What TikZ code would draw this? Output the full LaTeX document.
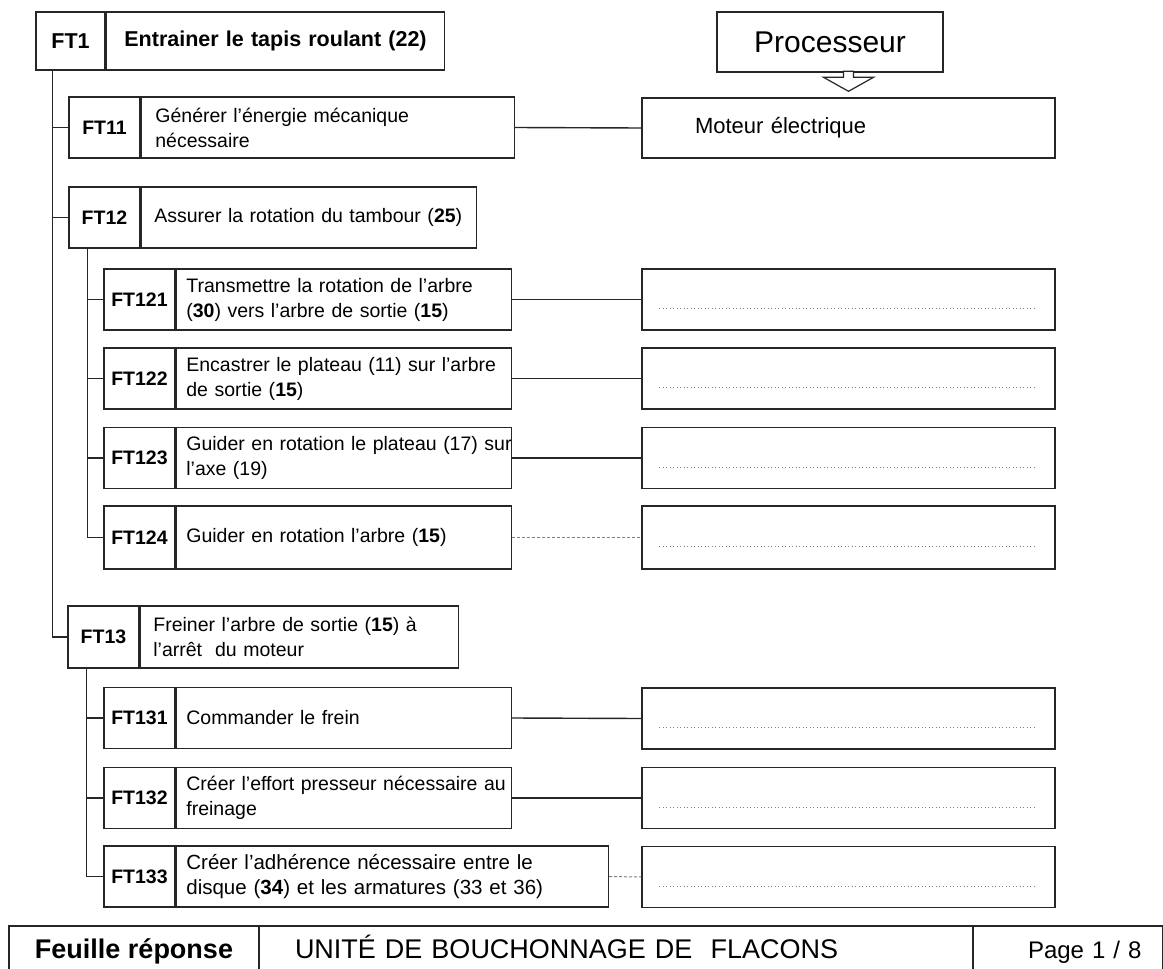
\documentclass[tikz,border=0pt]{standalone}
\usepackage{fontspec}
\setmainfont{Liberation Sans}
\usetikzlibrary{positioning}
\newcommand{\fs}[2]{\fontsize{#1}{#2}\selectfont}

\begin{document}
\begin{tikzpicture}
    [
    x=1pt, y=-1pt,
    lab/.style={draw=black!85, line width=1.4pt, minimum width=71pt, minimum height=61pt, inner sep=0pt, font=\fs{19.5}{24}\bfseries},
    txt/.style={draw=black!85, line width=1.4pt, minimum height=61pt, text width=#1, align=left, inner xsep=10pt, inner ysep=0pt, font=\fs{19.5}{25}},
    ans/.style={draw=black!85, line width=1.4pt, minimum width=413pt, minimum height=61pt, inner sep=0pt},
    foot/.style={draw=black!85, line width=1.4pt, minimum height=59pt, inner sep=0pt, text height=16pt, text depth=11pt, font=\fs{27}{30}},
    link/.style={black!85, line width=1.4pt},
    faint/.style={gray, line width=1pt, densely dashed},
    dots/.style={gray, line width=1pt, dash pattern=on 1pt off 2.5pt}
    ]
    \useasboundingbox (0,0) rectangle (1163,969);
    \fill[white] (0,0) rectangle (1163,969);
    \clip (0,0) rectangle (1163,969);

    % top level
    \node (ft1lab) at (70.5,41) [lab, minimum width=69pt, minimum height=58pt, font=\fs{21.5}{26}\bfseries] {FT1};
    \node (ft1txt) [txt=302pt, right=0pt of ft1lab, inner xsep=18pt, minimum height=58pt, font=\fs{21.5}{26}\bfseries] {\mbox{Entrainer le tapis roulant (22)}};
    \node (proc) at (830,42) [draw=black!85, line width=1.4pt, minimum width=226pt, minimum height=60pt, font=\fs{30}{34}] {Processeur};

    \node (ft11lab) at (104.5,127.5) [lab] {FT11};
    \node (ft11txt) [txt=345pt, right=0pt of ft11lab, inner xsep=14pt] {Générer l'énergie mécanique\\nécessaire};
    \node (mot) at (848.5,128) [draw=black!85, line width=1.4pt, minimum height=60pt, text width=307pt, inner xsep=53pt, align=left, font=\fs{22}{26}] {Moteur électrique};
    \draw[black!85, line width=1.2pt, fill=white] ([yshift=6pt]mot.north) -- ++(-25,-14) -- ++(20,0) -- ++(0,-6) -- ++(10,0) -- ++(0,6) -- ++(20,0) -- cycle;

    \node (ft12lab) at (104.5,217.5) [lab] {FT12};
    \node (ft12txt) [txt=309pt, right=0pt of ft12lab, inner xsep=13pt] {Assurer la rotation du tambour (\textbf{25})};

    \node (ft121lab) at (139.5,299.5) [lab] {FT121};
    \node (ft121txt) [txt=315pt, right=0pt of ft121lab] {Transmettre la rotation de l'arbre\\(\textbf{30}) vers l'arbre de sortie (\textbf{15})};
    \node (ft122lab) at (139.5,378.5) [lab] {FT122};
    \node (ft122txt) [txt=315pt, right=0pt of ft122lab] {Encastrer le plateau (11) sur l'arbre\\de sortie (\textbf{15})};
    \node (ft123lab) at (139.5,458) [lab] {FT123};
    \node (ft123txt) [txt=315pt, right=0pt of ft123lab] {\mbox{Guider en rotation le plateau (17) sur}\\l'axe (19)};
    \node (ft124lab) at (139.5,537.5) [lab, minimum height=63pt] {FT124};
    \node (ft124txt) [txt=315pt, right=0pt of ft124lab, minimum height=63pt] {Guider en rotation l'arbre (\textbf{15})};

    \node (r121) at (848.5,299.5) [ans] {};
    \node (r122) at (848.5,378.5) [ans] {};
    \node (r123) at (848.5,458) [ans] {};
    \node (r124) at (848.5,537.5) [ans, minimum height=63pt] {};

    \node (ft13lab) at (103.5,637) [lab, minimum height=62pt] {FT13};
    \node (ft13txt) [txt=292pt, right=0pt of ft13lab, inner xsep=13pt, minimum height=62pt] {Freiner l'arbre de sortie (\textbf{15}) à\\l'arrêt~ du moteur};

    \node (ft131lab) at (139.5,718) [lab] {FT131};
    \node (ft131txt) [txt=315pt, right=0pt of ft131lab] {Commander le frein};
    \node (ft132lab) at (139.5,798) [lab] {FT132};
    \node (ft132txt) [txt=315pt, right=0pt of ft132lab] {\mbox{Créer l'effort presseur nécessaire au}\\freinage};
    \node (ft133lab) at (139.5,876.5) [lab] {FT133};
    \node (ft133txt) [txt=412pt, right=0pt of ft133lab, font=\fs{20.5}{25}] {Créer l'adhérence nécessaire entre le\\disque (\textbf{34}) et les armatures (33 et 36)};

    \node (r131) at (848.5,718.5) [ans] {};
    \node (r132) at (848.5,798) [ans] {};
    \node (r133) at (848.5,877) [ans] {};

    % tree
    \draw[link] ([xshift=-18pt]ft1lab.south) |- (ft11lab.west);
    \draw[link] ([xshift=-18pt]ft1lab.south) |- (ft12lab.west);
    \draw[link] ([xshift=-18pt]ft1lab.south) |- (ft13lab.west);
    \draw[link] ([xshift=-17pt]ft12lab.south) |- (ft121lab.west);
    \draw[link] ([xshift=-17pt]ft12lab.south) |- (ft122lab.west);
    \draw[link] ([xshift=-17pt]ft12lab.south) |- (ft123lab.west);
    \draw[link] ([xshift=-17pt]ft12lab.south) |- (ft124lab.west);
    \draw[link] ([xshift=-17pt]ft13lab.south) |- (ft131lab.west);
    \draw[link] ([xshift=-17pt]ft13lab.south) |- (ft132lab.west);
    \draw[link] ([xshift=-17pt]ft13lab.south) |- (ft133lab.west);

    % solutions
    \draw[link] (ft11txt.east) -- (mot.west);
    \draw[link] (ft121txt.east) -- (r121.west);
    \draw[link] (ft122txt.east) -- (r122.west);
    \draw[link] (ft123txt.east) -- (r123.west);
    \draw[faint] (ft124txt.east) -- (r124.west);
    \draw[link] (ft131txt.east) -- (r131.west);
    \draw[link] (ft132txt.east) -- (r132.west);
    \draw[faint] (ft133txt.east) -- (r133.west);
    \foreach \r in {r121,r122,r123,r124,r131,r132,r133}
      \draw[dots] ([xshift=18pt,yshift=-9pt]\r.west) -- ([xshift=-20pt,yshift=-9pt]\r.east);

    % footer
    \node (foot1) at (134,955.5) [foot, minimum width=250pt, font=\fs{27}{30}\bfseries] {Feuille réponse};
    \node (foot2) at (616,955.5) [foot, minimum width=714pt, text width=642pt, align=left] {UNITÉ DE BOUCHONNAGE DE~ FLACONS};
    \node (foot3) at (1068,955.5) [foot, minimum width=190pt, text width=80pt, align=left, font=\fs{24}{28}] {\mbox{Page 1 / 8}};
  \end{tikzpicture}
\end{document}
